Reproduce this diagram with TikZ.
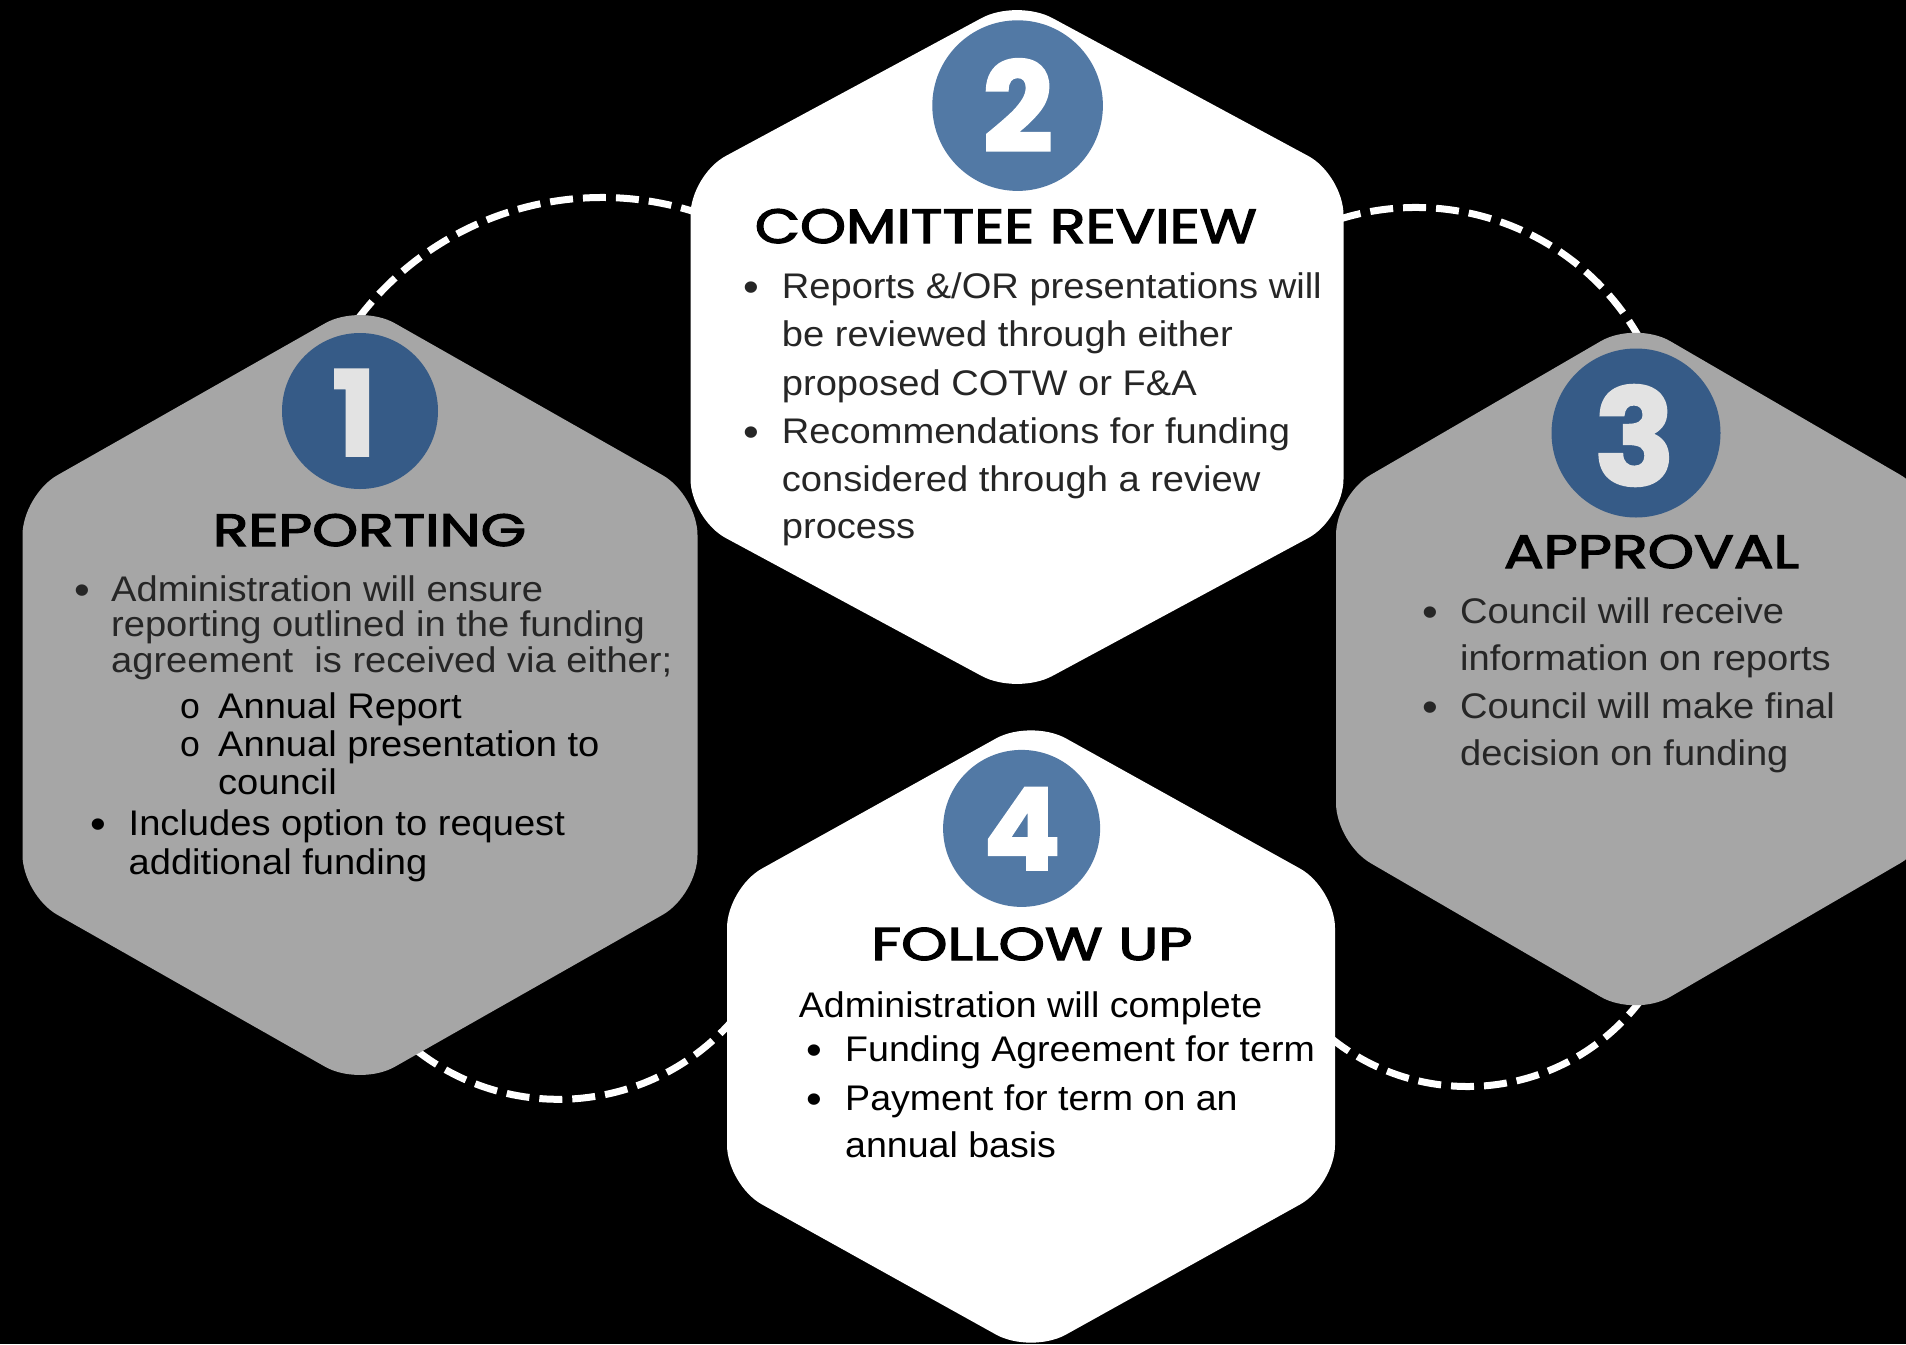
\documentclass[tikz,border=0pt]{standalone}
\usepackage{fontspec}
\usepackage{graphicx}
\setmainfont{Liberation Sans}
\newfontfamily\bodyfont{Liberation Sans}[FakeStretch=1.07]
\newfontfamily\bodyfontn{Liberation Sans}[FakeStretch=1.055]
\newfontfamily\subbulfont{Liberation Mono}
\newfontfamily\headfont{Poppins}[FakeBold=2.5]
\newfontfamily\digitfont{Poppins}[BoldFeatures={FakeBold=2}]
\definecolor{hexgray}{HTML}{A6A6A6}
\definecolor{darkblue}{HTML}{365B87}
\definecolor{lightblue}{HTML}{5279A5}
\definecolor{txtgray}{HTML}{262626}
\definecolor{digitgray}{HTML}{E3E3E3}
\begin{document}
\begin{tikzpicture}[x=1pt,y=-1pt,
  grayhex/.style={fill=hexgray, rounded corners=40pt},
  whitehex/.style={fill=white, rounded corners=40pt},
  dashline/.style={draw=white, line width=7pt, dash pattern=on 23pt off 10pt},
  darkdisc/.style={circle, fill=darkblue, inner sep=0pt},
  lightdisc/.style={circle, fill=lightblue, inner sep=0pt},
  digit/.style={inner sep=0pt, anchor=center},
  heading/.style={inner sep=0pt, anchor=base, text=black},
  bodytxt/.style={anchor=base west, inner sep=0pt, font=\bodyfont\fontsize{35.6}{40}\selectfont},
  bodytxtn/.style={anchor=base west, inner sep=0pt, font=\bodyfontn\fontsize{35.6}{40}\selectfont},
  bul/.style={anchor=base, inner sep=0pt, yshift=-3pt, font=\bodyfont\fontsize{42}{44}\selectfont},
  subbul/.style={anchor=base, inner sep=0pt, font=\subbulfont\fontsize{35.6}{40}\selectfont}
]
\useasboundingbox (0,0) rectangle (1906,1344);
\fill[black] (0,0) rectangle (1906,1344);
\clip (0,0) rectangle (1906,1344);

% arc centres
\coordinate (arcA) at (602,503.5);
\coordinate (arcB) at (1416,464);
\coordinate (arcC) at (1467.5,869.5);
\coordinate (arcD) at (558.7,868.3);

% dashed connectors
\draw[dashline] (arcA) ++(217:306) arc[start angle=217, end angle=300, radius=306];
\draw[dashline] (arcB) ++(245:256.5) arc[start angle=245, end angle=330, radius=256.5];
\draw[dashline] (arcC) ++(36:217) arc[start angle=36, end angle=135, radius=217];
\draw[dashline] (arcD) ++(40:231) arc[start angle=40, end angle=130, radius=231];

% hexagons
\path[grayhex] (360,303.5) -- (697.5,495) -- (697.5,895) -- (360,1086.5) -- (22.5,895) -- (22.5,495) -- cycle;
\path[grayhex] (1635.5,321) -- (1935,495) -- (1935,843) -- (1635.5,1017) -- (1336,843) -- (1336,495) -- cycle;
\path[whitehex] (1017,-1) -- (1343.5,175) -- (1343.5,519) -- (1017,695) -- (690.5,519) -- (690.5,175) -- cycle;
\path[whitehex] (1031,719) -- (1335,888) -- (1335,1185) -- (1031,1354) -- (727,1185) -- (727,888) -- cycle;

% number discs
\node[darkdisc, minimum size=156pt] (c1) at (360,411) {};
\node[lightdisc, minimum size=170.6pt] (c2) at (1017.6,105.6) {};
\node[darkdisc, minimum size=169pt] (c3) at (1636,433) {};
\node[lightdisc, minimum size=157pt] (c4) at (1021.6,828.4) {};

\node[digit, text=digitgray, font=\digitfont\bfseries\fontsize{118}{118}\selectfont] (n1) at (354.2,412.5) {1};
\node[digit, text=white, font=\digitfont\bfseries\fontsize{124}{124}\selectfont] (n2) at (1017.8,105.3) {2};
\node[digit, text=digitgray, font=\digitfont\bfseries\fontsize{134}{134}\selectfont] (n3) at (1634.6,435.5) {3};
\node[digit, text=white, font=\digitfont\bfseries\fontsize{114}{114}\selectfont] (n4) at (1022,828.8) {4};

% headings
\node[heading] (h1) at (369.5,546) {\resizebox{313pt}{32pt}{\headfont REPORTING}};
\node[heading] (h2) at (1005.8,243) {\resizebox{502pt}{34pt}{\headfont COMITTEE REVIEW}};
\node[heading] (h3) at (1651.5,568) {\resizebox{295pt}{33pt}{\headfont APPROVAL}};
\node[heading] (h4) at (1031.9,960) {\resizebox{321pt}{32.3pt}{\headfont FOLLOW UP}};

% hex 1 text
\node[bul, text=txtgray] (b11) at (82.6,601) {•};
\node[bodytxt, text=txtgray] (t11) at (111,601) {Administration will ensure};
\node[bodytxt, text=txtgray] (t12) at (111,636.7) {reporting outlined in the funding};
\node[bodytxt, text=txtgray] (t13) at (111,672.4) {agreement\ \ is received via either;};
\node[subbul] (s11) at (190,718) {o};
\node[bodytxt] (t14) at (218,718) {Annual Report};
\node[subbul] (s12) at (190,756.6) {o};
\node[bodytxt] (t15) at (218,756.6) {Annual presentation to};
\node[bodytxt] (t16) at (218,794) {council};
\node[bul] (b12) at (98.7,835.7) {•};
\node[bodytxt] (t17) at (128.5,835.7) {Includes option to request};
\node[bodytxt] (t18) at (128.5,874) {additional funding};

% hex 2 text
\node[bul, text=txtgray] (b21) at (751.6,298) {•};
\node[bodytxt, text=txtgray] (t21) at (781.7,298) {Reports \&/OR presentations will};
\node[bodytxt, text=txtgray] (t22) at (781.7,346.4) {be reviewed through either};
\node[bodytxt, text=txtgray] (t23) at (781.7,395) {proposed COTW or F\&A};
\node[bul, text=txtgray] (b22) at (751.6,443.3) {•};
\node[bodytxt, text=txtgray] (t24) at (781.7,443.3) {Recommendations for funding};
\node[bodytxt, text=txtgray] (t25) at (781.7,491) {considered through a review};
\node[bodytxt, text=txtgray] (t26) at (781.7,538) {process};

% hex 3 text
\node[bul, text=txtgray] (b31) at (1430.7,623.3) {•};
\node[bodytxt, text=txtgray] (t31) at (1460,623.3) {Council will receive};
\node[bodytxt, text=txtgray] (t32) at (1460,670.7) {information on reports};
\node[bul, text=txtgray] (b32) at (1430.7,718.3) {•};
\node[bodytxt, text=txtgray] (t33) at (1460,718.3) {Council will make final};
\node[bodytxt, text=txtgray] (t34) at (1460,765) {decision on funding};

% hex 4 text
\node[bodytxtn] (t41) at (798.7,1017.6) {Administration will complete};
\node[bul] (b41) at (814.5,1061.4) {•};
\node[bodytxtn] (t42) at (845,1061.4) {Funding Agreement for term};
\node[bul] (b42) at (814.5,1110.8) {•};
\node[bodytxtn] (t43) at (845,1110.8) {Payment for term on an};
\node[bodytxtn] (t44) at (845,1157.7) {annual basis};
\end{tikzpicture}
\end{document}
